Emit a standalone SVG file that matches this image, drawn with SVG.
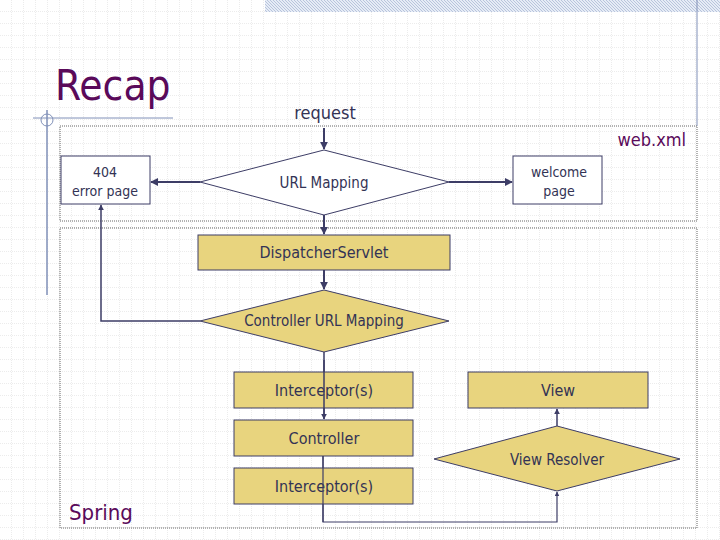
<svg xmlns="http://www.w3.org/2000/svg" width="720" height="540" viewBox="0 0 720 540">
<defs>
<pattern id="grid" width="12" height="12" patternUnits="userSpaceOnUse"><path d="M12 0V12M0 12H12" fill="none" stroke="#d8d8d8" stroke-width="1" stroke-dasharray="1 1"/></pattern>
<pattern id="hatch" width="3" height="3" patternUnits="userSpaceOnUse"><rect width="3" height="3" fill="#e6ecf6"/><path d="M0 0L3 3" stroke="#b8c4dc" stroke-width="1"/></pattern>
<marker id="ar" viewBox="0 0 10 10" refX="9" refY="5" markerWidth="4" markerHeight="4" orient="auto"><path d="M0 0L10 5L0 10z" fill="#3d3d66"/></marker>
</defs>
<style>
.t{font-family:Verdana,"DejaVu Sans",sans-serif;fill:#333355}
.y{fill:#e8d47e;stroke:#3d3d66;stroke-width:1}
.w{fill:#fff;stroke:#3d3d66;stroke-width:1}
.c{fill:none;stroke:#3d3d66;stroke-width:2}
.c1{fill:none;stroke:#3d3d66;stroke-width:1.2}
.box{fill:none;stroke:#666;stroke-width:1;stroke-dasharray:1 1}
.p{font-family:Verdana,"DejaVu Sans",sans-serif;fill:#5a0a5a}
</style>
<rect width="720" height="540" fill="#fff"/>
<rect width="720" height="540" fill="url(#grid)"/>
<rect x="265" y="0" width="455" height="12" fill="url(#hatch)"/>
<line x1="697" y1="0" x2="697" y2="126" stroke="#8090b8" stroke-width="1"/>
<line x1="33" y1="118" x2="173" y2="118" stroke="#8090b8" stroke-width="1"/>
<line x1="47" y1="110" x2="47" y2="295" stroke="#8090b8" stroke-width="1.5"/>
<circle cx="47" cy="120" r="6" fill="none" stroke="#8090b8"/>
<text class="p" x="55" y="100" font-size="42" font-family="Tahoma,'DejaVu Sans Condensed',sans-serif" style="font-family:'DejaVu Sans Condensed',sans-serif">Recap</text>
<rect class="box" x="60" y="126" width="637" height="95"/>
<rect class="box" x="60" y="228" width="637" height="300"/>
<text class="p" x="686" y="146" font-size="18" text-anchor="end" style="font-family:'DejaVu Sans Condensed',sans-serif">web.xml</text>
<text class="p" x="69" y="520" font-size="22" style="font-family:'DejaVu Sans Condensed',sans-serif">Spring</text>
<text class="t" x="325" y="119" font-size="18" text-anchor="middle" style="font-family:'DejaVu Sans Condensed',sans-serif">request</text>
<g id="connectors">
<line class="c" x1="324" y1="128" x2="324" y2="149" marker-end="url(#ar)"/>
<line class="c" x1="200" y1="182" x2="151" y2="182" marker-end="url(#ar)"/>
<line class="c" x1="449" y1="182" x2="512" y2="182" marker-end="url(#ar)"/>
<line class="c" x1="324" y1="215" x2="324" y2="234" marker-end="url(#ar)"/>
<line class="c" x1="324" y1="270" x2="324" y2="289" marker-end="url(#ar)"/>
<polyline class="c1" points="200,321 101,321 101,205" marker-end="url(#ar)" style="stroke-width:1.5"/>
<line class="c1" x1="324" y1="352" x2="324" y2="419" marker-end="url(#ar)" style="stroke-width:1.5"/>
<polyline class="c1" points="323,456 323,522 557,522 557,492" marker-end="url(#ar)"/>
<line class="c1" x1="557" y1="426" x2="557" y2="409" marker-end="url(#ar)" style="stroke-width:1.5"/>
</g>
<g id="n404"><rect class="w" x="61" y="156" width="89" height="48"/><text class="t" x="105" y="177" font-size="14" text-anchor="middle" style="font-family:'DejaVu Sans Condensed',sans-serif;font-weight:200">404</text><text class="t" x="105" y="196" font-size="14" text-anchor="middle" style="font-family:'DejaVu Sans Condensed',sans-serif">error page</text></g>
<g id="urlmap"><polygon class="w" points="200,182 324,150 449,182 324,215"/><text class="t" x="324" y="188" font-size="15" text-anchor="middle" style="font-family:'DejaVu Sans Condensed',sans-serif">URL Mapping</text></g>
<g id="welcome"><rect class="w" x="513" y="156" width="89" height="48"/><text class="t" x="559" y="177" font-size="14" text-anchor="middle" style="font-family:'DejaVu Sans Condensed',sans-serif">welcome</text><text class="t" x="559" y="196" font-size="14" text-anchor="middle" style="font-family:'DejaVu Sans Condensed',sans-serif">page</text></g>
<g id="dispatcher"><rect class="y" x="198" y="235" width="252" height="35"/><text class="t" x="324" y="258" font-size="16" text-anchor="middle" style="font-family:'DejaVu Sans Condensed',sans-serif">DispatcherServlet</text></g>
<g id="ctrlmap"><polygon class="y" points="200,321 324,290 449,321 324,352"/><text class="t" x="324" y="326" font-size="15" text-anchor="middle" style="font-family:'DejaVu Sans Condensed',sans-serif">Controller URL Mapping</text></g>
<g id="int1"><rect class="y" x="234" y="372" width="179" height="36"/><text class="t" x="324" y="396" font-size="16" text-anchor="middle" style="font-family:'DejaVu Sans Condensed',sans-serif">Interceptor(s)</text></g>
<g id="controller"><rect class="y" x="234" y="420" width="179" height="36"/><text class="t" x="324" y="444" font-size="16" text-anchor="middle" style="font-family:'DejaVu Sans Condensed',sans-serif">Controller</text></g>
<g id="int2"><rect class="y" x="234" y="468" width="179" height="36"/><text class="t" x="324" y="492" font-size="16" text-anchor="middle" style="font-family:'DejaVu Sans Condensed',sans-serif">Interceptor(s)</text></g>
<g id="view"><rect class="y" x="468" y="372" width="180" height="36"/><text class="t" x="558" y="396" font-size="16" text-anchor="middle" style="font-family:'DejaVu Sans Condensed',sans-serif">View</text></g>
<g id="resolver"><polygon class="y" points="434,459 557,426 680,459 557,491"/><text class="t" x="557" y="465" font-size="15" text-anchor="middle" style="font-family:'DejaVu Sans Condensed',sans-serif">View Resolver</text></g>
<line class="c1" x1="324" y1="360" x2="324" y2="419" style="stroke-width:1.5"/>
<line class="c1" x1="323" y1="456" x2="323" y2="522"/>
</svg>
